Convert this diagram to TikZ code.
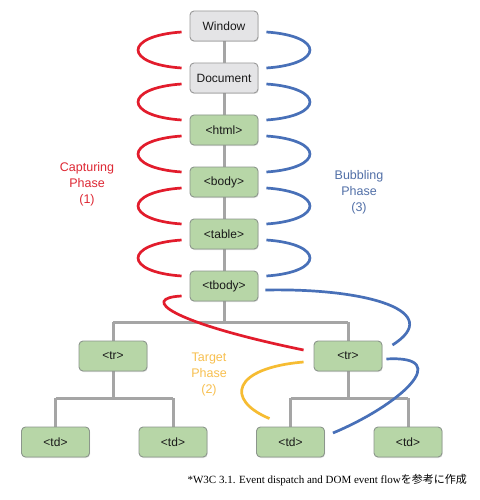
\documentclass[tikz,border=0pt]{standalone}
\usepackage{fontspec}
\setmainfont{Liberation Serif}
\setsansfont{Liberation Sans}
\newfontfamily\jpfont{Noto Sans CJK JP}
\usetikzlibrary{calc,shadows,backgrounds}
\definecolor{nodegreen}{RGB}{183,214,167}
\definecolor{nodegray}{RGB}{228,228,230}
\definecolor{borderc}{RGB}{140,150,140}
\definecolor{treeline}{RGB}{165,165,165}
\definecolor{capred}{RGB}{226,28,44}
\definecolor{bubblue}{RGB}{72,112,184}
\definecolor{tarorange}{RGB}{246,188,50}
\definecolor{capredtext}{RGB}{222,40,52}
\definecolor{bubbluetext}{RGB}{82,112,168}
\definecolor{taroragetext}{RGB}{248,192,80}
\tikzset{
  dombox/.style={draw=borderc, line width=0.9pt, rounded corners=4pt, fill=nodegreen,
    minimum width=68pt, minimum height=30pt, inner sep=0pt,
    font=\sffamily\fontsize{12}{14}\selectfont, text=black!90,
    drop shadow={opacity=0.25, shadow xshift=0.6pt, shadow yshift=-1pt}},
  topbox/.style={dombox, fill=nodegray, draw=gray!80},
  tree/.style={draw=treeline, line width=3pt},
  capflow/.style={draw=capred, line width=2.7pt},
  bubflow/.style={draw=bubblue, line width=2.7pt},
  tarflow/.style={draw=tarorange, line width=2.7pt},
  phaselabel/.style={align=center, font=\sffamily\fontsize{12.5}{16}\selectfont},
}
\begin{document}
\begin{tikzpicture}[x=1pt,y=-1pt]
\useasboundingbox (0,0) rectangle (479,500);

\node[topbox] (win) at (224,26) {Window};
\node[topbox] (doc) at (224,78) {Document};
\node[dombox] (html) at (224,130) {<html>};
\node[dombox] (body) at (224,182) {<body>};
\node[dombox] (table) at (224,234) {<table>};
\node[dombox] (tbody) at (224,286) {<tbody>};
\node[dombox] (trl) at (113,356) {<tr>};
\node[dombox] (trr) at (348,356) {<tr>};
\node[dombox] (td1) at (55.5,442) {<td>};
\node[dombox] (td2) at (173,442) {<td>};
\node[dombox] (td3) at (290.5,442) {<td>};
\node[dombox] (td4) at (408,442) {<td>};

\coordinate (j1) at (224,322);
\coordinate (j1l) at (113,322);
\coordinate (j1r) at (348,322);
\coordinate (j2) at (113,398);
\coordinate (j2l) at (55.5,398);
\coordinate (j2r) at (173,398);
\coordinate (j3) at (348,398);
\coordinate (j3l) at (290.5,398);
\coordinate (j3r) at (408,398);

\begin{pgfonlayer}{background}
\fill[white] (0,0) rectangle (479,500);
\draw[tree] (win.south) -- (doc.north);
\draw[tree] (doc.south) -- (html.north);
\draw[tree] (html.south) -- (body.north);
\draw[tree] (body.south) -- (table.north);
\draw[tree] (table.south) -- (tbody.north);
\draw[tree] (tbody.south) -- (j1);
\draw[tree] (j1l) -- (j1r);
\draw[tree] (j1l) -- (trl.north);
\draw[tree] (j1r) -- (trr.north);
\draw[tree] (trl.south) -- (j2);
\draw[tree] (j2l) -- (j2r);
\draw[tree] (j2l) -- (td1.north);
\draw[tree] (j2r) -- (td2.north);
\draw[tree] (trr.south) -- (j3);
\draw[tree] (j3l) -- (j3r);
\draw[tree] (j3l) -- (td3.north);
\draw[tree] (j3r) -- (td4.north);
\end{pgfonlayer}

% capturing and bubbling arcs
\foreach \a/\b in {win/doc, doc/html, html/body, body/table, table/tbody}{
  \draw[capflow] ($(\a.west)+(-8,6)$) .. controls +(-58,4) and +(-58,-4) .. ($(\b.west)+(-8,-10)$);
  \draw[bubflow] ($(\a.east)+(8,6)$) .. controls +(58,4) and +(58,-4) .. ($(\b.east)+(8,-10)$);
}
% tbody -> target tr
\draw[capflow] ($(tbody.west)+(-8,10)$) .. controls (140,298) and (168,322) .. ($(trr.west)+(-10,-6)$);
\draw[bubflow] ($(tbody.east)+(7,4)$) .. controls (370,288) and (445,312) .. ($(trr.east)+(10,-11)$);
% target phase
\draw[tarflow] ($(trr.west)+(-10,6)$) .. controls (232,368) and (225,400) .. ($(td3.north)+(-21,-8)$);
% bubbling from td
\draw[bubflow] ($(td3.east)+(8,-9)$) .. controls (400,405) and (455,355) .. ($(trr.east)+(4,3)$);

% labels
\node[phaselabel, text=capredtext] (caplab) at (87,184) {Capturing\\Phase\\(1)};
\node[phaselabel, text=bubbluetext] (bublab) at (359,192) {Bubbling\\Phase\\(3)};
\node[phaselabel, text=taroragetext] (tarlab) at (209,374) {Target\\Phase\\(2)};

\node[anchor=east, inner sep=0pt, font=\fontsize{11}{13}\selectfont] (note) at (467,480)
  {*W3C 3.1. Event dispatch and DOM event flow{\jpfont を参考に作成}};
\end{tikzpicture}
\end{document}
